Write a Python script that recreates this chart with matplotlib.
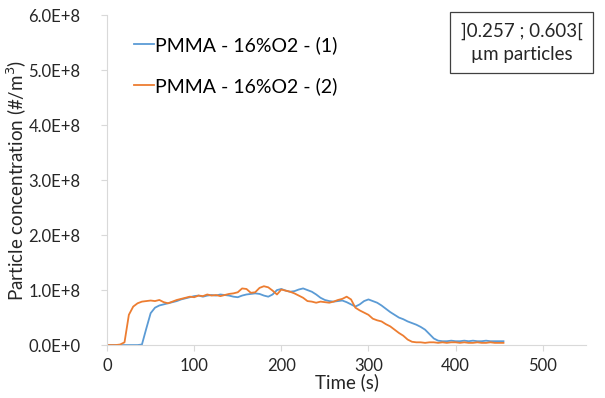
import numpy as np
import matplotlib
matplotlib.use("Agg")
import matplotlib.pyplot as plt
from matplotlib.ticker import FuncFormatter, MultipleLocator

plt.rcParams['font.family'] = ['Lato', 'DejaVu Sans']

# time axis (s), one reading every 5 s
time_s = np.arange(0, 460, 5)

# particle concentration, in units of 1e8 #/m3
pmma_1 = [0, 0, 0, 0, 0, 0, 0, 0, 0.01, 0.30,
          0.58, 0.68, 0.72, 0.74, 0.76, 0.78, 0.80, 0.83, 0.85, 0.87,
          0.89, 0.90, 0.88, 0.90, 0.91, 0.90, 0.92, 0.91, 0.90, 0.88,
          0.87, 0.90, 0.92, 0.93, 0.94, 0.93, 0.90, 0.88, 0.92, 1.00,
          1.02, 0.99, 0.97, 0.98, 1.01, 1.03, 1.00, 0.97, 0.92, 0.86,
          0.82, 0.80, 0.79, 0.80, 0.81, 0.78, 0.74, 0.70, 0.74, 0.80,
          0.83, 0.80, 0.77, 0.72, 0.66, 0.60, 0.55, 0.50, 0.47, 0.43,
          0.40, 0.37, 0.33, 0.28, 0.20, 0.12, 0.08, 0.07, 0.07, 0.08,
          0.07, 0.07, 0.08, 0.07, 0.08, 0.07, 0.07, 0.08, 0.07, 0.07,
          0.07, 0.07]
pmma_2 = [0, 0, 0, 0.01, 0.05, 0.55, 0.70, 0.76, 0.79, 0.80,
          0.81, 0.80, 0.82, 0.78, 0.76, 0.79, 0.82, 0.84, 0.86, 0.88,
          0.87, 0.90, 0.89, 0.92, 0.90, 0.91, 0.89, 0.91, 0.93, 0.94,
          0.96, 1.03, 1.02, 0.95, 0.96, 1.04, 1.07, 1.05, 0.99, 0.92,
          1.01, 0.99, 0.97, 0.94, 0.90, 0.86, 0.80, 0.79, 0.77, 0.79,
          0.78, 0.77, 0.79, 0.82, 0.84, 0.88, 0.83, 0.68, 0.63, 0.59,
          0.55, 0.48, 0.45, 0.43, 0.38, 0.34, 0.28, 0.22, 0.17, 0.10,
          0.06, 0.05, 0.05, 0.04, 0.05, 0.05, 0.04, 0.05, 0.04, 0.05,
          0.05, 0.04, 0.05, 0.04, 0.04, 0.05, 0.04, 0.04, 0.05, 0.04,
          0.04, 0.04]

labels = ['PMMA - 16%O2 - (1)', 'PMMA - 16%O2 - (2)']
colors = ['#5B9BD5', '#ED7D31']

fig = plt.figure(figsize=(6.05, 3.98), dpi=100)
ax = fig.add_axes([0.177, 0.133, 0.792, 0.829])

ax.plot(time_s, np.array(pmma_1) * 1e8, color=colors[0], lw=1.3, label=labels[0])
ax.plot(time_s, np.array(pmma_2) * 1e8, color=colors[1], lw=1.3, label=labels[1])

ax.set_xlim(0, 550)
ax.set_ylim(0, 6e8)
ax.xaxis.set_major_locator(MultipleLocator(100))
ax.yaxis.set_major_locator(MultipleLocator(1e8))
ax.yaxis.set_major_formatter(FuncFormatter(lambda v, p: '%.1fE+%d' % (v / 1e8, 8) if v else '0.0E+0'))

for s in ['top', 'right']:
    ax.spines[s].set_visible(False)
for s in ['left', 'bottom']:
    ax.spines[s].set_color('#D9D9D9')
ax.tick_params(colors='#D9D9D9', labelcolor='#262626', labelsize=12, length=4)
ax.tick_params(axis='y', pad=15)
ax.tick_params(axis='x', pad=5)

ax.set_xlabel('Time (s)', fontsize=13.5, color='#262626', labelpad=0)
ax.set_ylabel('Particle concentration (#/m$^3$)', fontsize=13.5, color='#262626', labelpad=0)

ax.legend(loc='upper left', bbox_to_anchor=(0.02, 0.99), frameon=False, fontsize=14,
          handlelength=1.0, handletextpad=0.05, labelspacing=1.2)

fig.text(0.862, 0.893, ']0.257 ; 0.603[\nµm particles', ha='center', va='center',
         fontsize=13.5, color='#262626', linespacing=1.45,
         bbox=dict(boxstyle='square,pad=0.55', fc='white', ec='#404040', lw=0.9))

fig.savefig('out.png', dpi=100)
